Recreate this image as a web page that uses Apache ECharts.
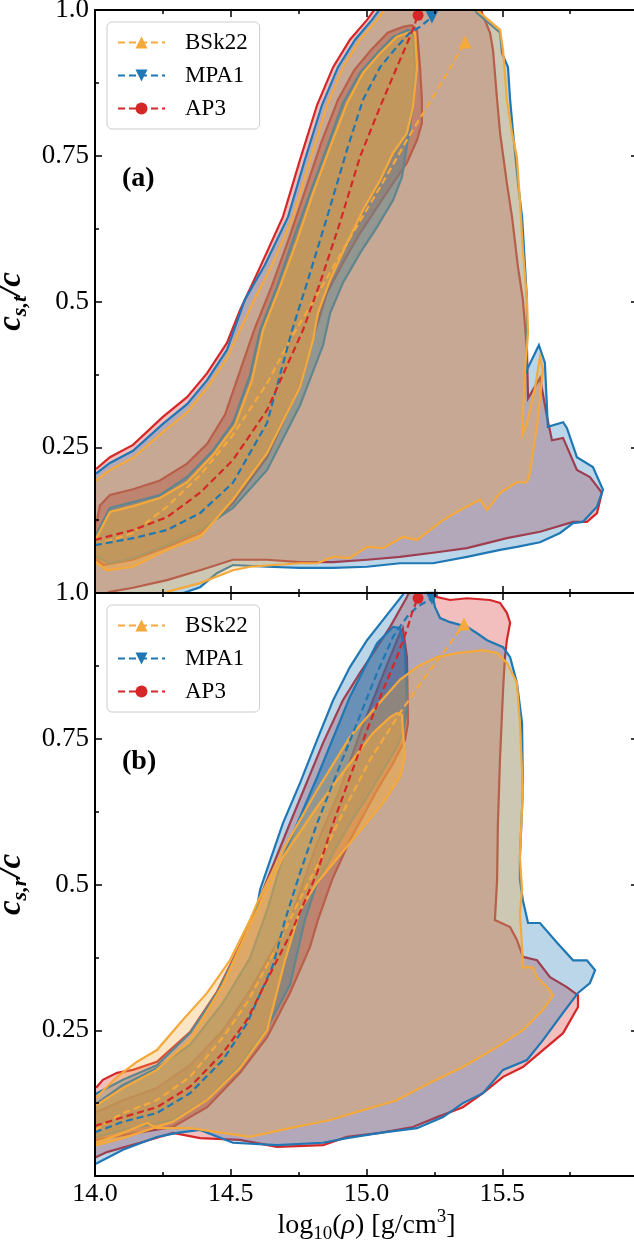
<!DOCTYPE html>
<html>
<head>
<meta charset="utf-8">
<script src="https://cdn.jsdelivr.net/npm/echarts@6/dist/echarts.min.js"></script>
<style>
html, body { margin: 0; padding: 0; background: #fff; }
#chart { width: 634px; height: 1245px; }
</style>
</head>
<body>
<div id="chart"></div>
<script>
var models = ['BSk22', 'MPA1', 'AP3'];
var colors = { BSk22: '#f5a93b', MPA1: '#1f77b4', AP3: '#d62728' };
var markers = { BSk22: ['triangle', 0, 13], MPA1: ['triangle', 180, 13], AP3: ['circle', 0, 11] };
var xTickLabels = { 14: '14.0', 14.5: '14.5', 15: '15.0', 15.5: '15.5' };
var yTickLabels = { 0.25: '0.25', 0.5: '0.5', 0.75: '0.75', 1: '1.0' };

// panel (a): c_s,t / c  -- outer and inner contours, [log10 rho, cs/c]
var ap3OuterA = [[13.98,0.211],[14.007,0.214],[14.055,0.233],[14.14,0.254],[14.25,0.302],[14.339,0.336],[14.413,0.377],[14.486,0.429],[14.534,0.485],[14.608,0.559],[14.692,0.645],[14.755,0.743],[14.818,0.837],[14.877,0.902],[14.939,0.949],[15.002,0.983],[15.068,1.026],[15.418,1.026],[15.425,0.995],[15.455,0.961],[15.466,0.931],[15.481,0.846],[15.492,0.789],[15.517,0.703],[15.536,0.645],[15.558,0.559],[15.576,0.503],[15.591,0.417],[15.595,0.334],[15.639,0.369],[15.665,0.302],[15.683,0.262],[15.724,0.266],[15.775,0.211],[15.823,0.199],[15.867,0.172],[15.849,0.137],[15.812,0.122],[15.761,0.122],[15.639,0.105],[15.517,0.094],[15.37,0.077],[15.245,0.069],[15.123,0.062],[15.002,0.057],[14.877,0.053],[14.755,0.053],[14.634,0.057],[14.508,0.057],[14.387,0.039],[14.265,0.022],[14.14,0.009],[14.055,0.002],[13.98,-0.012]];
var ap3InnerA = [[13.982,0.12],[14.007,0.123],[14.018,0.15],[14.055,0.168],[14.14,0.178],[14.239,0.193],[14.339,0.222],[14.413,0.256],[14.479,0.306],[14.541,0.39],[14.586,0.451],[14.65,0.525],[14.712,0.605],[14.771,0.686],[14.833,0.772],[14.895,0.846],[14.955,0.897],[15.016,0.931],[15.078,0.961],[15.134,0.971],[15.168,0.974],[15.186,0.966],[15.197,0.902],[15.204,0.846],[15.204,0.806],[15.186,0.777],[15.149,0.738],[15.098,0.703],[15.039,0.662],[14.976,0.617],[14.913,0.566],[14.855,0.515],[14.81,0.448],[14.755,0.357],[14.634,0.233],[14.508,0.154],[14.387,0.103],[14.265,0.079],[14.14,0.057],[14.029,0.048],[14.007,0.057],[13.982,0.06]];
var mpa1OuterA = [[13.98,0.202],[14.007,0.206],[14.055,0.223],[14.14,0.244],[14.25,0.29],[14.339,0.324],[14.413,0.365],[14.486,0.417],[14.552,0.503],[14.626,0.563],[14.711,0.645],[14.773,0.743],[14.836,0.837],[14.895,0.902],[14.958,0.949],[15.02,0.983],[15.087,1.026],[15.363,1.026],[15.407,0.995],[15.492,0.961],[15.499,0.926],[15.521,0.902],[15.529,0.846],[15.54,0.789],[15.558,0.703],[15.573,0.645],[15.584,0.559],[15.591,0.503],[15.591,0.383],[15.635,0.425],[15.657,0.395],[15.668,0.285],[15.724,0.293],[15.738,0.283],[15.775,0.233],[15.834,0.216],[15.871,0.177],[15.849,0.148],[15.797,0.122],[15.761,0.12],[15.713,0.103],[15.639,0.087],[15.554,0.079],[15.492,0.074],[15.37,0.062],[15.245,0.051],[15.123,0.051],[15.002,0.045],[14.877,0.043],[14.755,0.043],[14.634,0.045],[14.508,0.048],[14.449,0.034],[14.387,0.01],[14.313,-0.002],[13.98,-0.012]];
var mpa1InnerA = [[13.982,0.099],[14.007,0.103],[14.055,0.146],[14.14,0.156],[14.239,0.168],[14.339,0.199],[14.435,0.245],[14.508,0.292],[14.571,0.374],[14.608,0.451],[14.67,0.525],[14.729,0.605],[14.792,0.686],[14.855,0.765],[14.913,0.84],[14.976,0.892],[15.039,0.926],[15.098,0.954],[15.153,0.966],[15.171,0.961],[15.179,0.902],[15.171,0.846],[15.16,0.799],[15.142,0.748],[15.131,0.714],[15.098,0.674],[15.039,0.628],[14.976,0.583],[14.913,0.532],[14.866,0.48],[14.84,0.425],[14.755,0.322],[14.634,0.211],[14.508,0.146],[14.387,0.108],[14.265,0.082],[14.14,0.06],[14.055,0.051],[14.007,0.062],[13.982,0.065]];
var bsk22OuterA = [[13.98,0.19],[14.007,0.194],[14.055,0.211],[14.14,0.232],[14.25,0.276],[14.339,0.31],[14.413,0.352],[14.486,0.403],[14.586,0.503],[14.652,0.563],[14.729,0.645],[14.792,0.743],[14.855,0.837],[14.913,0.902],[14.976,0.949],[15.039,0.983],[15.105,1.026],[15.381,1.026],[15.407,1.0],[15.492,0.966],[15.503,0.931],[15.517,0.846],[15.536,0.789],[15.554,0.748],[15.565,0.674],[15.576,0.588],[15.591,0.503],[15.595,0.446],[15.584,0.383],[15.573,0.271],[15.591,0.292],[15.621,0.353],[15.639,0.405],[15.65,0.383],[15.628,0.285],[15.61,0.233],[15.602,0.206],[15.591,0.19],[15.554,0.19],[15.492,0.172],[15.444,0.142],[15.418,0.16],[15.344,0.142],[15.282,0.125],[15.186,0.091],[15.134,0.096],[15.061,0.077],[15.002,0.079],[14.939,0.06],[14.877,0.062],[14.818,0.051],[14.755,0.051],[14.571,0.045],[14.508,0.039],[14.387,0.017],[14.265,0.002],[14.239,-0.012],[13.98,-0.012]];
var bsk22InnerA = [[13.982,0.093],[14.007,0.096],[14.055,0.139],[14.14,0.149],[14.239,0.163],[14.339,0.19],[14.435,0.237],[14.516,0.288],[14.578,0.365],[14.619,0.451],[14.681,0.525],[14.744,0.605],[14.803,0.686],[14.866,0.765],[14.928,0.84],[14.987,0.892],[15.05,0.926],[15.112,0.954],[15.16,0.962],[15.179,0.961],[15.186,0.902],[15.171,0.834],[15.149,0.789],[15.098,0.755],[15.05,0.708],[14.987,0.657],[14.928,0.6],[14.866,0.537],[14.821,0.48],[14.803,0.434],[14.755,0.353],[14.634,0.24],[14.508,0.16],[14.387,0.096],[14.265,0.074],[14.14,0.045],[14.044,0.039],[14.007,0.051],[13.982,0.055]];

// panel (a): median tracks
var bsk22TrackA = [[14.0,0.082],[14.14,0.103],[14.265,0.148],[14.387,0.202],[14.508,0.271],[14.634,0.36],[14.718,0.434],[14.829,0.52],[14.939,0.609],[15.05,0.696],[15.16,0.786],[15.271,0.871],[15.363,0.945]];
var mpa1TrackA = [[14.0,0.082],[14.14,0.094],[14.265,0.108],[14.387,0.137],[14.508,0.189],[14.634,0.292],[14.726,0.451],[14.781,0.532],[14.855,0.645],[14.928,0.76],[14.987,0.846],[15.05,0.902],[15.112,0.937],[15.16,0.961],[15.197,0.971],[15.241,0.988]];
var ap3TrackA = [[14.0,0.091],[14.14,0.108],[14.265,0.13],[14.387,0.172],[14.508,0.228],[14.634,0.314],[14.766,0.451],[14.829,0.532],[14.902,0.635],[14.976,0.748],[15.05,0.834],[15.112,0.902],[15.16,0.954],[15.19,0.991]];

// panel (b): c_s,r / c
var ap3OuterB = [[13.982,0.148],[14.007,0.153],[14.029,0.165],[14.081,0.177],[14.14,0.182],[14.228,0.196],[14.35,0.247],[14.449,0.316],[14.534,0.396],[14.597,0.465],[14.718,0.605],[14.84,0.743],[14.913,0.816],[14.976,0.863],[15.039,0.907],[15.087,0.942],[15.149,0.993],[15.168,1.014],[15.252,1.014],[15.26,0.993],[15.308,0.988],[15.37,0.991],[15.455,0.988],[15.492,0.983],[15.517,0.966],[15.529,0.949],[15.517,0.919],[15.51,0.89],[15.503,0.834],[15.492,0.719],[15.484,0.605],[15.481,0.508],[15.473,0.439],[15.529,0.427],[15.554,0.405],[15.576,0.376],[15.628,0.37],[15.676,0.341],[15.738,0.324],[15.779,0.31],[15.779,0.29],[15.724,0.245],[15.65,0.216],[15.576,0.187],[15.503,0.17],[15.429,0.142],[15.355,0.118],[15.26,0.101],[15.171,0.084],[15.05,0.074],[14.928,0.067],[14.84,0.053],[14.67,0.05],[14.534,0.062],[14.387,0.065],[14.287,0.074],[14.166,0.057],[14.044,0.041],[14.007,0.033],[13.982,0.027]];
var ap3InnerB = [[13.982,0.106],[14.007,0.11],[14.103,0.13],[14.228,0.151],[14.35,0.19],[14.471,0.25],[14.571,0.319],[14.645,0.379],[14.718,0.439],[14.818,0.571],[14.902,0.662],[14.976,0.76],[15.039,0.834],[15.087,0.89],[15.123,0.931],[15.134,0.94],[15.149,0.89],[15.153,0.777],[15.142,0.748],[15.098,0.708],[15.039,0.662],[14.939,0.576],[14.873,0.508],[14.821,0.439],[14.792,0.393],[14.718,0.314],[14.634,0.238],[14.534,0.177],[14.413,0.118],[14.287,0.084],[14.103,0.07],[14.007,0.062],[13.982,0.058]];
var mpa1OuterB = [[13.982,0.137],[14.007,0.142],[14.103,0.165],[14.228,0.19],[14.35,0.245],[14.449,0.314],[14.534,0.393],[14.597,0.461],[14.608,0.491],[14.692,0.605],[14.755,0.674],[14.818,0.748],[14.877,0.816],[14.939,0.873],[15.002,0.919],[15.061,0.954],[15.134,0.997],[15.145,1.014],[15.241,1.014],[15.245,0.993],[15.252,0.976],[15.271,0.957],[15.308,0.95],[15.37,0.942],[15.407,0.931],[15.444,0.919],[15.503,0.907],[15.529,0.89],[15.554,0.846],[15.573,0.777],[15.576,0.662],[15.565,0.547],[15.565,0.508],[15.576,0.473],[15.595,0.434],[15.639,0.434],[15.702,0.4],[15.761,0.37],[15.812,0.37],[15.842,0.353],[15.823,0.331],[15.779,0.314],[15.724,0.28],[15.65,0.233],[15.591,0.199],[15.503,0.182],[15.429,0.142],[15.355,0.125],[15.282,0.101],[15.186,0.082],[15.05,0.074],[14.928,0.065],[14.84,0.057],[14.67,0.053],[14.508,0.057],[14.387,0.079],[14.302,0.074],[14.228,0.067],[14.103,0.045],[14.007,0.022],[13.982,0.017]];
var mpa1InnerB = [[13.982,0.122],[14.007,0.125],[14.103,0.156],[14.228,0.185],[14.35,0.225],[14.471,0.297],[14.571,0.374],[14.634,0.456],[14.692,0.547],[14.818,0.684],[14.939,0.822],[15.039,0.914],[15.098,0.942],[15.123,0.94],[15.142,0.902],[15.149,0.804],[15.134,0.76],[15.112,0.736],[15.061,0.696],[15.002,0.65],[14.939,0.605],[14.877,0.554],[14.818,0.503],[14.773,0.439],[14.718,0.328],[14.634,0.254],[14.534,0.19],[14.413,0.13],[14.287,0.096],[14.103,0.079],[14.007,0.067],[13.982,0.063]];
var bsk22OuterB = [[13.982,0.13],[14.007,0.136],[14.081,0.17],[14.155,0.196],[14.228,0.216],[14.324,0.268],[14.413,0.314],[14.497,0.37],[14.571,0.439],[14.597,0.468],[14.692,0.559],[14.818,0.662],[14.939,0.753],[15.024,0.799],[15.123,0.851],[15.186,0.873],[15.26,0.89],[15.333,0.897],[15.429,0.902],[15.481,0.897],[15.517,0.88],[15.554,0.846],[15.565,0.777],[15.576,0.662],[15.565,0.547],[15.573,0.491],[15.565,0.451],[15.573,0.393],[15.576,0.358],[15.613,0.358],[15.628,0.341],[15.665,0.324],[15.687,0.31],[15.65,0.285],[15.576,0.25],[15.481,0.221],[15.355,0.187],[15.234,0.16],[15.112,0.13],[14.987,0.113],[14.866,0.096],[14.718,0.082],[14.571,0.067],[14.35,0.082],[14.228,0.082],[14.192,0.091],[14.103,0.074],[14.007,0.057],[13.982,0.051]];
var bsk22InnerB = [[13.982,0.118],[14.007,0.122],[14.103,0.151],[14.228,0.182],[14.35,0.233],[14.471,0.328],[14.571,0.431],[14.692,0.547],[14.818,0.633],[14.939,0.708],[15.024,0.76],[15.087,0.787],[15.112,0.794],[15.131,0.791],[15.134,0.76],[15.142,0.719],[15.123,0.684],[15.061,0.64],[14.939,0.571],[14.818,0.503],[14.755,0.456],[14.7,0.37],[14.634,0.25],[14.534,0.185],[14.413,0.13],[14.287,0.093],[14.103,0.065],[14.007,0.053],[13.982,0.05]];

// panel (b): median tracks
var bsk22TrackB = [[14.0,0.079],[14.103,0.108],[14.228,0.13],[14.35,0.17],[14.471,0.238],[14.56,0.297],[14.67,0.393],[14.744,0.465],[14.829,0.542],[14.921,0.631],[15.013,0.714],[15.123,0.794],[15.208,0.851],[15.271,0.89],[15.359,0.947]];
var mpa1TrackB = [[14.0,0.075],[14.103,0.093],[14.228,0.108],[14.35,0.142],[14.471,0.199],[14.56,0.262],[14.656,0.362],[14.7,0.439],[14.755,0.52],[14.818,0.605],[14.891,0.691],[14.965,0.777],[15.039,0.863],[15.098,0.925],[15.149,0.959],[15.186,0.976],[15.241,0.991]];
var ap3TrackB = [[14.0,0.086],[14.103,0.101],[14.228,0.118],[14.35,0.153],[14.471,0.211],[14.56,0.268],[14.656,0.357],[14.718,0.413],[14.818,0.52],[14.877,0.605],[14.939,0.684],[15.002,0.765],[15.061,0.834],[15.112,0.89],[15.149,0.937],[15.171,0.971],[15.19,0.991]];

var serif = 'Liberation Serif';

function rgba(hex, a) {
	var n = parseInt(hex.slice(1), 16);
	return 'rgba(' + (n >> 16) + ',' + ((n >> 8) & 255) + ',' + (n & 255) + ',' + a + ')';
}

function polygon(pts, name, alpha, panel) {
	return {
		type : 'custom',
		xAxisIndex : panel * 2,
		yAxisIndex : panel * 2,
		clip : true,
		silent : true,
		data : pts,
		renderItem : function(params, api) {
			if (params.dataIndex !== 0) return null;
			var points = pts.map(function(p) { return api.coord(p); });
			return {
				type : 'polygon',
				shape : { points : points },
				style : { fill : rgba(colors[name], alpha), stroke : colors[name], lineWidth : 2.2 }
			};
		}
	};
}

function track(pts, name, panel) {
	var m = markers[name];
	return {
		type : 'line',
		name : name,
		xAxisIndex : panel * 2,
		yAxisIndex : panel * 2,
		z : 5,
		silent : true,
		clip : false,
		symbol : m[0],
		symbolRotate : m[1],
		symbolSize : m[2],
		lineStyle : { color : colors[name], width : 2.2, type : [7, 4] },
		itemStyle : { color : colors[name] },
		data : pts.map(function(p, i) {
			return i === pts.length - 1 ? p : { value : p, symbol : 'none' };
		})
	};
}

function xAxis(panel, pos) {
	return {
		type : 'value', gridIndex : panel, position : pos,
		min : 14, max : 16, interval : 0.5, z : 10,
		axisLine : { show : true, onZero : false, lineStyle : { color : '#000', width : 2 } },
		axisTick : { show : true, inside : true, length : 7, lineStyle : { color : '#000', width : 1.5 } },
		minorTick : { show : true, splitNumber : 2, length : 4, lineStyle : { color : '#000', width : 1.5 } },
		splitLine : { show : false },
		axisLabel : {
			show : panel === 1 && pos === 'bottom', margin : 5,
			fontFamily : serif, fontSize : 26, color : '#000',
			formatter : function(v) { return xTickLabels[v] || ''; }
		},
		name : panel === 1 && pos === 'bottom' ? '{t|log}{b|10}{t|(}{i|ρ}{t|) [g/cm}{p|3}{t|]}' : '',
		nameLocation : 'middle',
		nameGap : 28,
		nameTextStyle : {
			rich : {
				t : { fontFamily : serif, fontSize : 28, color : '#000', lineHeight : 36 },
				i : { fontFamily : serif, fontSize : 28, fontStyle : 'italic', color : '#000', lineHeight : 36 },
				b : { fontFamily : serif, fontSize : 19, color : '#000', lineHeight : 18, verticalAlign : 'bottom' },
				p : { fontFamily : serif, fontSize : 19, color : '#000', lineHeight : 18, verticalAlign : 'top' }
			}
		}
	};
}

function yAxis(panel, pos) {
	var sub = panel === 0 ? 's,t' : 's,r';
	return {
		type : 'value', gridIndex : panel, position : pos,
		min : 0, max : 1, interval : 0.25, z : 10,
		axisLine : { show : true, onZero : false, lineStyle : { color : '#000', width : 2 } },
		axisTick : { show : true, inside : true, length : 7, lineStyle : { color : '#000', width : 1.5 } },
		minorTick : { show : true, splitNumber : 2, length : 4, lineStyle : { color : '#000', width : 1.5 } },
		splitLine : { show : false },
		axisLabel : {
			show : pos === 'left', margin : 6, showMaxLabel : true,
			fontFamily : serif, fontSize : 27, color : '#000',
			formatter : function(v) { return yTickLabels[v] || ''; }
		},
		name : pos === 'left' ? '{c|c}{s|' + sub + '}{c|/c}' : '',
		nameLocation : 'middle',
		nameGap : 45,
		nameTextStyle : {
			rich : {
				c : { fontFamily : serif, fontSize : 33, fontStyle : 'italic', fontWeight : 'bold', color : '#000', lineHeight : 38 },
				s : { fontFamily : serif, fontSize : 22, fontStyle : 'italic', fontWeight : 'bold', color : '#000', lineHeight : 20, verticalAlign : 'bottom' }
			}
		}
	};
}

function legend(top) {
	return {
		data : models,
		orient : 'vertical',
		left : 107,
		top : top,
		itemWidth : 47,
		itemHeight : 15,
		itemGap : 10,
		padding : [9, 12, 9, 10],
		backgroundColor : 'rgba(255,255,255,0.8)',
		borderColor : '#cccccc',
		borderWidth : 1,
		borderRadius : 5,
		selectedMode : false,
		textStyle : { fontFamily : serif, fontSize : 23, color : '#000', padding : [0, 0, 0, 15] }
	};
}

var shapes = [
	[ap3OuterA, ap3InnerA, ap3OuterB, ap3InnerB, 'AP3'],
	[mpa1OuterA, mpa1InnerA, mpa1OuterB, mpa1InnerB, 'MPA1'],
	[bsk22OuterA, bsk22InnerA, bsk22OuterB, bsk22InnerB, 'BSk22']
];
var series = [];
shapes.forEach(function(s) {
	series.push(polygon(s[0], s[4], 0.3, 0));
	series.push(polygon(s[1], s[4], 0.5, 0));
	series.push(polygon(s[2], s[4], 0.3, 1));
	series.push(polygon(s[3], s[4], 0.5, 1));
});
series.push(track(bsk22TrackA, 'BSk22', 0), track(mpa1TrackA, 'MPA1', 0), track(ap3TrackA, 'AP3', 0));
series.push(track(bsk22TrackB, 'BSk22', 1), track(mpa1TrackB, 'MPA1', 1), track(ap3TrackB, 'AP3', 1));

var chart = echarts.init(document.getElementById('chart'));
chart.setOption({
	animation : false,
	backgroundColor : '#fff',
	grid : [
		{ left : 95, top : 10, width : 543, height : 583, outerBoundsMode : 'none' },
		{ left : 95, top : 593, width : 543, height : 583, outerBoundsMode : 'none' }
	],
	xAxis : [ xAxis(0, 'bottom'), xAxis(0, 'top'), xAxis(1, 'bottom'), xAxis(1, 'top') ],
	yAxis : [ yAxis(0, 'left'), yAxis(0, 'right'), yAxis(1, 'left'), yAxis(1, 'right') ],
	legend : [ legend(22), legend(605) ],
	title : [
		{ text : '(a)', left : 122, top : 165, padding : 0, textStyle : { fontFamily : serif, fontWeight : 'bold', fontSize : 28, color : '#000' } },
		{ text : '(b)', left : 122, top : 748, padding : 0, textStyle : { fontFamily : serif, fontWeight : 'bold', fontSize : 28, color : '#000' } }
	],
	series : series
});
</script>
</body>
</html>
